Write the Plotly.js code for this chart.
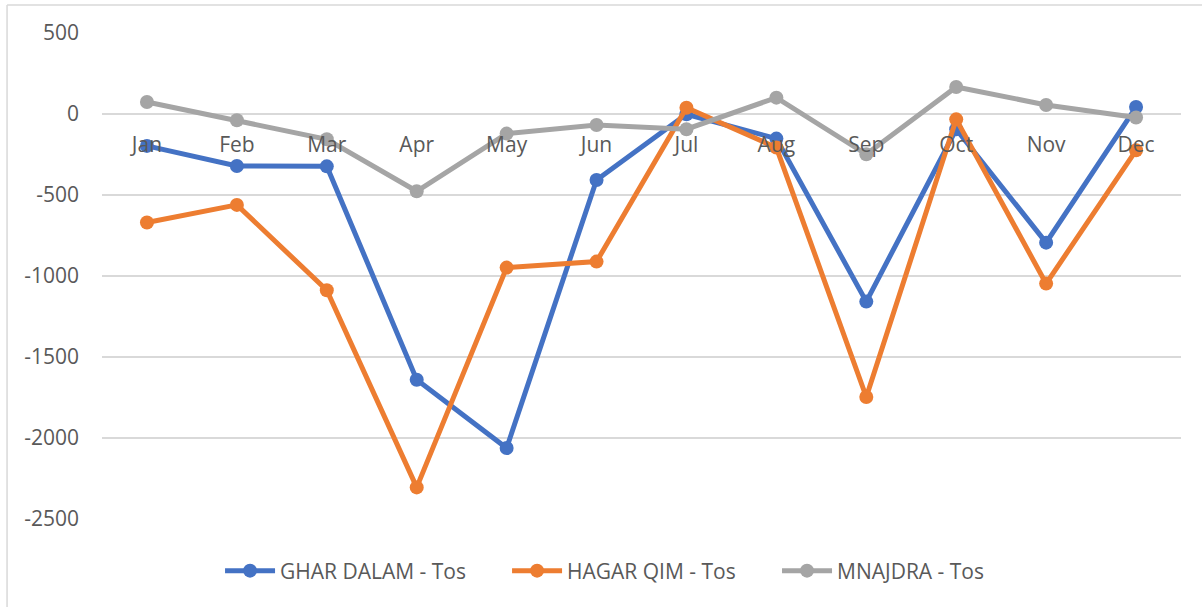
<!DOCTYPE html>
<html>
<head>
<meta charset="utf-8">
<script src="https://cdn.plot.ly/plotly-3.0.1.min.js"></script>
<style>
html,body{margin:0;padding:0;background:#fff;}
#chart{width:1202px;height:607px;}
</style>
</head>
<body>
<div id="chart"></div>
<script>
const months = ["Jan","Feb","Mar","Apr","May","Jun","Jul","Aug","Sep","Oct","Nov","Dec"];
const gharDalam = [-197,-321,-323,-1640,-2062,-407,-2,-152,-1158,-94,-794,43];
const hagarQim = [-670,-561,-1088,-2305,-948,-911,39,-207,-1747,-33,-1047,-224];
const mnajdra = [74,-39,-156,-477,-121,-68,-94,101,-249,167,56,-22];
const seriesNames = ["GHAR DALAM - Tos","HAGAR QIM - Tos","MNAJDRA - Tos"];
const yTicks = [500,0,-500,-1000,-1500,-2000,-2500];

const colors = ["#4472C4","#ED7D31","#A5A5A5"];
const font = "Open Sans, Liberation Sans, sans-serif";
const fs = 21;
const legendIds = ["legend","legend2","legend3"];
const legendX = [0.1094, 0.3754, 0.6256];

const traces = [gharDalam, hagarQim, mnajdra].map((vals,i)=>({
  type:"scatter", mode:"lines+markers",
  x: months, y: vals, name: seriesNames[i],
  line:{color:colors[i], width:5},
  marker:{color:colors[i], size:14},
  legend: legendIds[i],
  cliponaxis:false
}));
const layout = {
  width:1202, height:607,
  margin:{l:102, r:21, t:33, b:88},
  paper_bgcolor:"#fff", plot_bgcolor:"#fff",
  font:{family:font, size:fs, color:"#595959"},
  showlegend:true,
  xaxis:{type:"category", range:[-0.5,11.5], anchor:"free", position:0.8333,
         showgrid:false, zeroline:false, showline:false,
         ticks:"outside", ticklen:12, tickcolor:"rgba(0,0,0,0)",
         tickfont:{family:font, size:fs, color:"#595959"}},
  yaxis:{range:[-2500,500], tickvals:yTicks, ticktext:yTicks.map(String),
         showgrid:true, gridcolor:"#D9D9D9", gridwidth:1.5, zeroline:false, showline:false,
         ticks:"", ticklabelstandoff:22,
         tickfont:{family:font, size:fs, color:"#595959"}},
  shapes:[
    {type:"line", xref:"paper", yref:"paper", x0:-0.088, x1:1.03, y0:1.0576, y1:1.0576, line:{color:"#D9D9D9", width:1.5}},
    {type:"line", xref:"paper", yref:"paper", x0:-0.088, x1:-0.088, y0:1.0576, y1:-0.2, line:{color:"#D9D9D9", width:1.5}}
  ]
};
legendIds.forEach((id,i)=>{
  layout[id] = {orientation:"h", x:legendX[i], xanchor:"left", y:-0.107, yanchor:"middle",
    font:{family:font, size:fs, color:"#595959"}, itemwidth:50, bgcolor:"rgba(0,0,0,0)"};
});
Plotly.newPlot("chart", traces, layout, {displayModeBar:false, staticPlot:true});
</script>
</body>
</html>
